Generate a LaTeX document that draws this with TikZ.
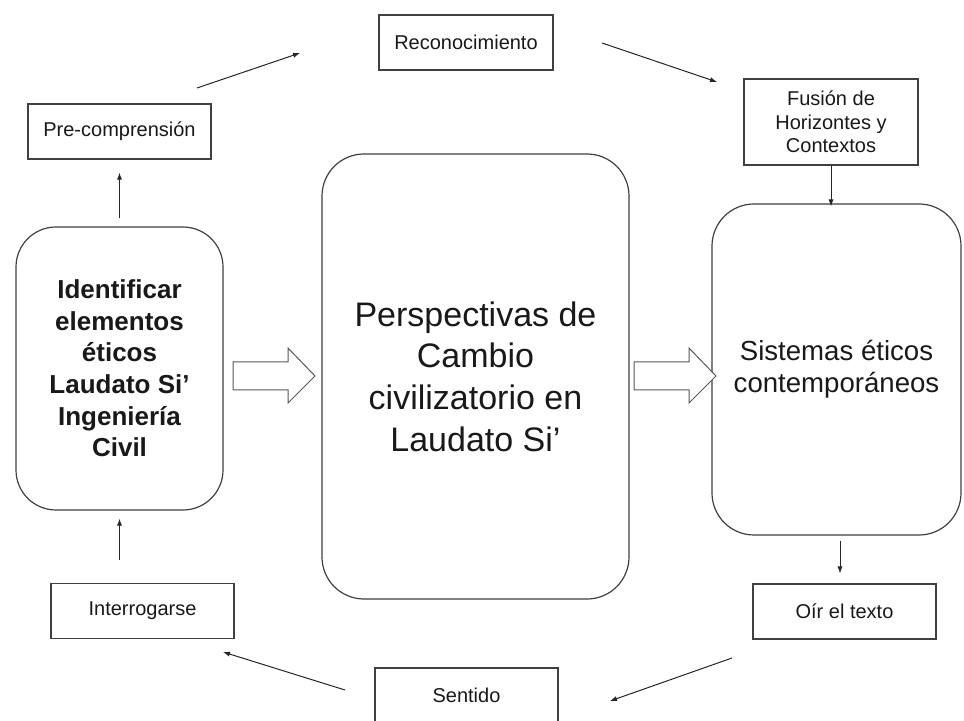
\documentclass[tikz,border=0pt]{standalone}
\usepackage{fontspec}
\setmainfont{Liberation Sans}
\usetikzlibrary{arrows.meta}
\tikzset{
  caja/.style={draw=black!75, line width=0.6pt, inner sep=0pt, align=center, text=black!90, font=\fontsize{10}{12}\selectfont},
  cajachica/.style={caja, minimum width=91.5pt, minimum height=27.5pt},
  redonda/.style={caja, rounded corners=21pt},
  flecha/.style={-{Latex[length=3.5pt,width=2.6pt]}, line width=0.5pt, draw=black!85},
  bloque/.style={draw=black!65, line width=0.5pt, fill=white}
}
\newcommand{\flechabloque}[1]{\draw[bloque] (#1,362) -- ++(55,0) -- ++(0,-14) -- ++(27,28) -- ++(-27,27) -- ++(0,-13) -- ++(-55,0) -- cycle;}

\begin{document}
\begin{tikzpicture}[x=0.5pt,y=-0.5pt]
        \fill[white] (0,0) rectangle (964,721);
        \useasboundingbox (0,0) rectangle (964,721);

        %nodes
        \node[cajachica] (pre) at (119.5,131.5) {Pre-comprensión};
        \node[cajachica, minimum width=87pt] (reco) at (466,42.5) {Reconocimiento};
        \node[cajachica, minimum width=87pt, minimum height=43pt, font=\fontsize{10}{11.8}\selectfont] (fus) at (831,122) {Fusión de\\Horizontes y\\Contextos};
        \node[redonda, rounded corners=20pt, minimum width=103.5pt, minimum height=141.5pt, font=\bfseries\fontsize{13}{15.8}\selectfont] (ident) at (119.5,368.5) {Identificar\\elementos\\éticos\\Laudato Si’\\Ingeniería\\Civil};
        \node[redonda, minimum width=153.5pt, minimum height=222.5pt, font=\fontsize{17}{20.8}\selectfont] (persp) at (475.5,376.5) {Perspectivas de\\Cambio\\civilizatorio en\\Laudato Si’};
        \node[redonda, minimum width=124.5pt, minimum height=165.5pt, font=\fontsize{13.8}{15.8}\selectfont] (sist) at (836.5,369.5) {Sistemas éticos\\contemporáneos};
        \node[cajachica] (interr) at (142.5,611) {Interrogarse};
        \node[cajachica] (oir) at (844.5,611.5) {Oír el texto};
        \node[cajachica] (sent) at (466.5,695.5) {Sentido};

        %free ends of the slanted arrows
        \coordinate (pre-sal) at (197,88);
        \coordinate (reco-ent) at (300,53);
        \coordinate (reco-sal) at (602,43);
        \coordinate (fus-ent) at (717,82);
        \coordinate (oir-sal) at (732,658);
        \coordinate (sent-ent) at (610,701);
        \coordinate (sent-sal) at (345,690);
        \coordinate (interr-ent) at (223,652);

        %edges
        \draw[flecha, shorten <=4pt, shorten >=6.5pt] (ident.north) -- (ident.north |- pre.south);
        \draw[flecha] (pre-sal) -- (reco-ent);
        \draw[flecha] (reco-sal) -- (fus-ent);
        \draw[flecha, shorten >=-1.5pt] (fus.south) -- (fus.south |- sist.north);
        \draw[flecha, shorten <=2.5pt, shorten >=5pt] ([xshift=1.75pt]sist.south) -- ([xshift=1.75pt]sist.south |- oir.north);
        \draw[flecha] (oir-sal) -- (sent-ent);
        \draw[flecha] (sent-sal) -- (interr-ent);
        \draw[flecha, shorten <=11.5pt, shorten >=4pt] (ident.south |- interr.north) -- (ident.south);

        %block arrows
        \flechabloque{233}
        \flechabloque{634}
\end{tikzpicture}
\end{document}
